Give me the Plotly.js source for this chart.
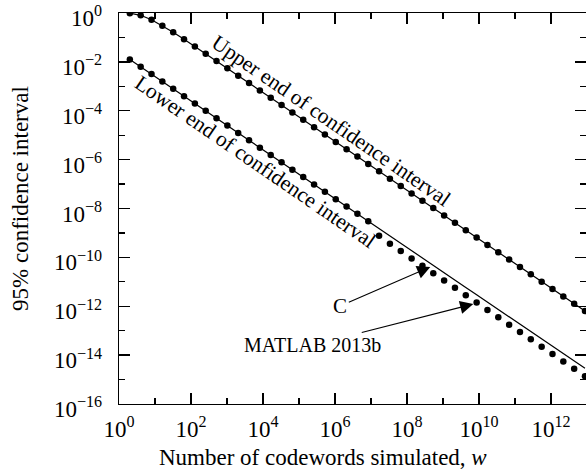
<!DOCTYPE html>
<html>
<head>
<meta charset="utf-8">
<script src="https://cdn.plot.ly/plotly-3.0.1.min.js"></script>
<style>html,body{margin:0;padding:0;background:#fff;}#chart{width:586px;height:471px;}</style>
</head>
<body>
<div id="chart"></div>
<script>
// Number of codewords simulated (powers of two)
const w = [2,4,8,16,32,64,128,256,512,1024,2048,4096,8192,16384,32768,65536,131072,262144,524288,1048576,
  2097152,4194304,8388608,16777216,33554432,67108864,134217728,268435456,536870912,1073741824,2147483648,
  4294967296,8589934592,17179869184,34359738368,68719476736,137438953472,274877906944,549755813888,
  1099511627776,2199023255552,4398046511104,8796093022208];
// Upper end of the 95% confidence interval
const upperC = [0.987,0.806,0.526,0.302,0.162,0.0840,0.0427,0.0216,0.0109,5.43e-3,2.72e-3,1.36e-3,6.80e-4,
  3.40e-4,1.70e-4,8.50e-5,4.25e-5,2.13e-5,1.063e-5,5.31e-6,2.66e-6,1.33e-6,6.64e-7,3.32e-7,1.66e-7,8.30e-8,
  4.15e-8,2.08e-8,1.04e-8,5.19e-9,2.60e-9,1.30e-9,6.49e-10,3.24e-10,1.62e-10,8.11e-11,4.05e-11,2.03e-11,
  1.01e-11,5.07e-12,2.53e-12,1.27e-12,6.34e-13];
// Lower end of the 95% confidence interval (C)
const lowerC = [1.258e-2,6.31e-3,3.16e-3,1.581e-3,7.91e-4,3.96e-4,1.98e-4,9.89e-5,4.95e-5,2.47e-5,1.24e-5,
  6.18e-6,3.09e-6,1.545e-6,7.73e-7,3.86e-7,1.93e-7,9.66e-8,4.83e-8,2.41e-8,1.21e-8,6.04e-9,3.02e-9,1.51e-9,
  7.55e-10,3.77e-10,1.89e-10,9.43e-11,4.72e-11,2.36e-11,1.18e-11,5.90e-12,2.95e-12,1.47e-12,7.37e-13,
  3.68e-13,1.84e-13,9.21e-14,4.61e-14,2.30e-14,1.15e-14,5.76e-15,2.88e-15];
// Lower end of the 95% confidence interval (MATLAB 2013b)
const lowerMatlab = [1.258e-2,6.31e-3,3.16e-3,1.581e-3,7.91e-4,3.96e-4,1.98e-4,9.89e-5,4.95e-5,2.47e-5,1.24e-5,
  6.18e-6,3.09e-6,1.545e-6,7.73e-7,3.86e-7,1.93e-7,9.66e-8,4.83e-8,2.41e-8,1.21e-8,6.04e-9,3.02e-9,7.7e-10,
  3.62e-10,1.81e-10,9.05e-11,4.53e-11,2.26e-11,1.13e-11,5.66e-12,2.83e-12,1.41e-12,7.07e-13,3.54e-13,
  1.77e-13,8.84e-14,4.42e-14,2.21e-14,1.105e-14,5.53e-15,2.76e-15,1.38e-15];

const xMajor = [1,1e2,1e4,1e6,1e8,1e10,1e12];
const xMajorText = ['10<sup>0</sup>','10<sup>2</sup>','10<sup>4</sup>','10<sup>6</sup>','10<sup>8</sup>','10<sup>10</sup>','10<sup>12</sup>'];
const xMinor = [10,1e3,1e5,1e7,1e9,1e11,1e13];
const yMajor = [1,1e-2,1e-4,1e-6,1e-8,1e-10,1e-12,1e-14,1e-16];
const yMajorText = ['10<sup>0</sup>','10<sup>\u22122</sup>','10<sup>\u22124</sup>','10<sup>\u22126</sup>','10<sup>\u22128</sup>',
  '10<sup>\u221210</sup>','10<sup>\u221212</sup>','10<sup>\u221214</sup>','10<sup>\u221216</sup>'];
const yMinor = [1e-1,1e-3,1e-5,1e-7,1e-9,1e-11,1e-13,1e-15];

const FONT = 'Liberation Serif, Times New Roman, serif';

const traces = [
  {x: w, y: upperC, mode: 'lines+markers', line: {color: '#000', width: 1.2},
   marker: {color: '#000', size: 6.5}, name: 'Upper', hoverinfo: 'skip'},
  {x: w, y: lowerC, mode: 'lines', line: {color: '#000', width: 1.2}, name: 'C', hoverinfo: 'skip'},
  {x: w, y: lowerMatlab, mode: 'markers', marker: {color: '#000', size: 6.5}, name: 'MATLAB 2013b', hoverinfo: 'skip'}
];

const axisCommon = {
  type: 'log', showgrid: false, zeroline: false,
  showline: true, linecolor: '#000', linewidth: 1.3, mirror: 'allticks',
  ticks: 'inside', ticklen: 11, tickwidth: 1.3, tickcolor: '#000',
  tickmode: 'array', ticklabeloverflow: 'allow',
  tickfont: {family: FONT, size: 23, color: '#000'}
};

const layout = {
  width: 586, height: 471,
  margin: {l: 119, r: 0, t: 13, b: 67},
  paper_bgcolor: '#fff', plot_bgcolor: '#fff',
  showlegend: false,
  font: {family: FONT, color: '#000'},
  xaxis: Object.assign({}, axisCommon, {
    range: [0, 467/36],
    tickvals: xMajor, ticktext: xMajorText,
    ticklabelstandoff: 4,
    minor: {tickmode: 'array', tickvals: xMinor, ticks: 'inside', ticklen: 6, tickwidth: 1.3, tickcolor: '#000', showgrid: false}
  }),
  yaxis: Object.assign({}, axisCommon, {
    range: [-16, 0],
    tickvals: yMajor, ticktext: yMajorText,
    ticklabelstandoff: 11, ticklabelshift: 5,
    minor: {tickmode: 'array', tickvals: yMinor, ticks: 'inside', ticklen: 6, tickwidth: 1.3, tickcolor: '#000', showgrid: false}
  }),
  annotations: [
    {text: 'Number of codewords simulated, <i>w</i>', xref: 'paper', yref: 'paper',
     x: 0.4358, y: -0.138, xanchor: 'center', yanchor: 'middle', showarrow: false,
     font: {family: FONT, size: 23, color: '#000'}},
    {text: '95% confidence interval', xref: 'paper', yref: 'paper',
     x: -0.2099, y: 0.527, xanchor: 'center', yanchor: 'middle', textangle: -90, showarrow: false,
     font: {family: FONT, size: 23, color: '#000'}},
    {text: 'Upper end of confidence interval', xref: 'x', yref: 'y', x: 5.9, y: -4.42,
     showarrow: false, textangle: 34.5, font: {family: FONT, size: 21.5, color: '#000'}},
    {text: 'Lower end of confidence interval', xref: 'x', yref: 'y', x: 3.786, y: -6.10,
     showarrow: false, textangle: 34.5, font: {family: FONT, size: 21.5, color: '#000'}},
    {text: 'C', xref: 'x', yref: 'y', x: 8.647, y: -10.39, axref: 'pixel', ayref: 'pixel',
     ax: -90, ay: 39, showarrow: true, arrowhead: 2, arrowsize: 2.4, arrowwidth: 1.1, arrowcolor: '#000',
     standoff: 0, font: {family: FONT, size: 21, color: '#000'}},
    {text: 'MATLAB 2013b', xref: 'x', yref: 'y', x: 9.842, y: -11.91, axref: 'pixel', ayref: 'pixel',
     ax: -160.5, ay: 41, showarrow: true, arrowhead: 2, arrowsize: 2.4, arrowwidth: 1.1, arrowcolor: '#000',
     standoff: 0, font: {family: FONT, size: 20, color: '#000'}}
  ]
};

Plotly.newPlot('chart', traces, layout, {staticPlot: true, displayModeBar: false});
</script>
</body>
</html>
